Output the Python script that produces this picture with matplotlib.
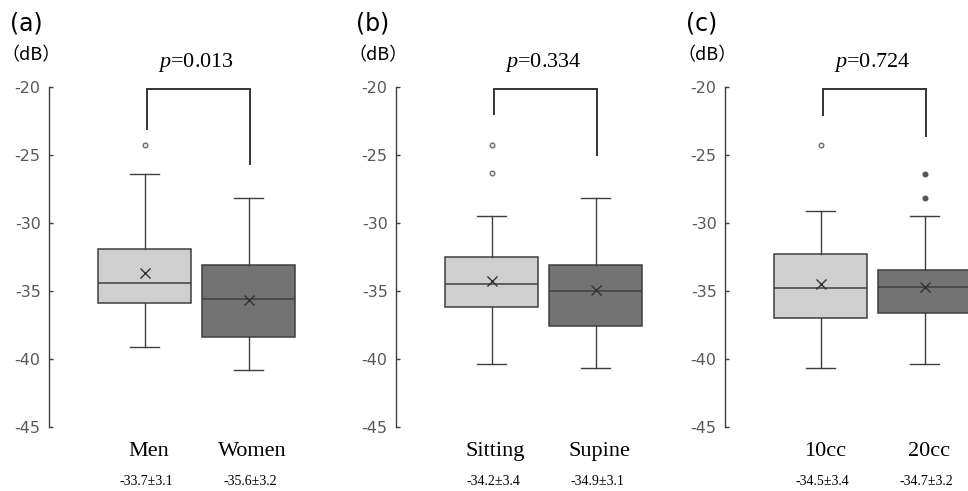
import matplotlib
matplotlib.use("Agg")
import matplotlib.pyplot as plt

plt.rcParams['mathtext.fontset'] = 'custom'
plt.rcParams['mathtext.it'] = 'Liberation Serif:italic'
plt.rcParams['mathtext.rm'] = 'Liberation Serif'

# ---------------- data ----------------
panel_tags = ["(a)", "(b)", "(c)"]
p_texts = ["=0.013", "=0.334", "=0.724"]

cats_a = ["Men", "Women"]
cats_b = ["Sitting", "Supine"]
cats_c = ["10cc", "20cc"]

stats_a = ["-33.7±3.1", "-35.6±3.2"]
stats_b = ["-34.2±3.4", "-34.9±3.1"]
stats_c = ["-34.5±3.4", "-34.7±3.2"]

q1_a = [-35.9, -38.4]
med_a = [-34.4, -35.6]
q3_a = [-31.9, -33.1]
wlo_a = [-39.1, -40.8]
whi_a = [-26.4, -28.2]
mean_a = [-33.7, -35.65]
fliers_a = [[-24.3], []]

q1_b = [-36.2, -37.6]
med_b = [-34.5, -35.0]
q3_b = [-32.5, -33.1]
wlo_b = [-40.4, -40.7]
whi_b = [-29.5, -28.2]
mean_b = [-34.25, -34.9]
fliers_b = [[-24.3, -26.35], []]

q1_c = [-37.0, -36.6]
med_c = [-34.8, -34.7]
q3_c = [-32.3, -33.45]
wlo_c = [-40.7, -40.4]
whi_c = [-29.1, -29.5]
mean_c = [-34.5, -34.7]
fliers_c = [[-24.3], [-26.4, -28.2]]

# bracket leg ends (left, right)
legs_a = [-23.1, -25.7]
legs_b = [-22.0, -25.0]
legs_c = [-22.1, -23.6]

yticks = [-20, -25, -30, -35, -40, -45]

panels = [
    (cats_a, stats_a, q1_a, med_a, q3_a, wlo_a, whi_a, mean_a, fliers_a, legs_a),
    (cats_b, stats_b, q1_b, med_b, q3_b, wlo_b, whi_b, mean_b, fliers_b, legs_b),
    (cats_c, stats_c, q1_c, med_c, q3_c, wlo_c, whi_c, mean_c, fliers_c, legs_c),
]

# ---------------- layout ----------------
W, H = 968, 491
fig = plt.figure(figsize=(W / 100, H / 100), dpi=100)
axis_px = [49, 396, 725]
top_px, bot_px = 86.7, 427.0
unit_px = 104.0
x_left = 1 - 95.5 / unit_px
x_right = 2.6

light = "#cfcfcf"
dark = "#737373"
edge = "#3f3f3f"
tickc = "#595959"

for i, (cats, stl, q1, med, q3, wlo, whi, mean, fl, legs) in enumerate(panels):
    left = axis_px[i] / W
    width = (x_right - x_left) * unit_px / W
    ax = fig.add_axes([left, (H - bot_px) / H, width, (bot_px - top_px) / H])
    bstats = []
    for k in range(2):
        bstats.append(dict(med=med[k], q1=q1[k], q3=q3[k], whislo=wlo[k],
                           whishi=whi[k], mean=mean[k], fliers=fl[k], label=cats[k]))
    art = ax.bxp(bstats, positions=[1, 2], widths=0.9, patch_artist=True,
                 showmeans=True, showfliers=True, capwidths=0.27,
                 boxprops=dict(edgecolor=edge, linewidth=1.1),
                 medianprops=dict(color=edge, linewidth=1.1),
                 whiskerprops=dict(color=edge, linewidth=1.0),
                 capprops=dict(color=edge, linewidth=1.0),
                 meanprops=dict(marker="x", markeredgecolor="#333333",
                                markersize=7, markeredgewidth=1.0),
                 flierprops=dict(marker="o", markersize=3.4,
                                 markerfacecolor="#e8e8e8",
                                 markeredgecolor="#666666",
                                 markeredgewidth=0.9))
    for k, b in enumerate(art["boxes"]):
        b.set_facecolor(light if k == 0 else dark)
    # second group's fliers in panel c are filled dark
    if i == 2:
        art["fliers"][1].set_markerfacecolor("#555555")
        art["fliers"][1].set_markeredgecolor("#555555")

    ax.set_xlim(x_left, x_right)
    ax.set_ylim(-45, -20)
    ax.set_yticks(yticks)
    ax.set_yticklabels([str(t) for t in yticks], fontsize=11.5,
                       fontfamily="DejaVu Sans", color=tickc)
    ax.tick_params(axis="y", direction="in", length=3, width=1.0,
                   color=edge, pad=6)
    ax.set_xticks([])
    for s in ["top", "right", "bottom"]:
        ax.spines[s].set_visible(False)
    ax.spines["left"].set_color(edge)
    ax.spines["left"].set_linewidth(1.0)
    ax.patch.set_alpha(0)

    # bracket
    bx = [1.02, 1.02, 2.01, 2.01]
    by = [legs[0], -20.2, -20.2, legs[1]]
    ax.plot(bx, by, color="#333333", linewidth=1.4, clip_on=False,
            solid_joinstyle="miter")
    ax.text(1.5, -18.25, r"$p$" + p_texts[i], ha="center", va="center",
            fontsize=16, fontfamily="Liberation Serif", clip_on=False)

    # category and stats labels
    for k in range(2):
        ax.text(1 + k + 0.04, -46.8, cats[k], ha="center", va="center",
                fontsize=16, fontfamily="Liberation Serif", clip_on=False)
        ax.text(1 + k + 0.02, -49.0, stl[k], ha="center", va="center",
                fontsize=10, fontfamily="Liberation Serif", clip_on=False)

    # panel tag and unit label
    fig.text((axis_px[i] - 23) / W, 1 - 23 / H, panel_tags[i], ha="center",
             va="center", fontsize=17, fontfamily="DejaVu Sans")
    fig.text((axis_px[i] - 18) / W, 1 - 55 / H, "（dB）", ha="center",
             va="center", fontsize=13,
             fontfamily=["Noto Sans CJK JP", "DejaVu Sans"])

fig.savefig("out.png", dpi=100)
